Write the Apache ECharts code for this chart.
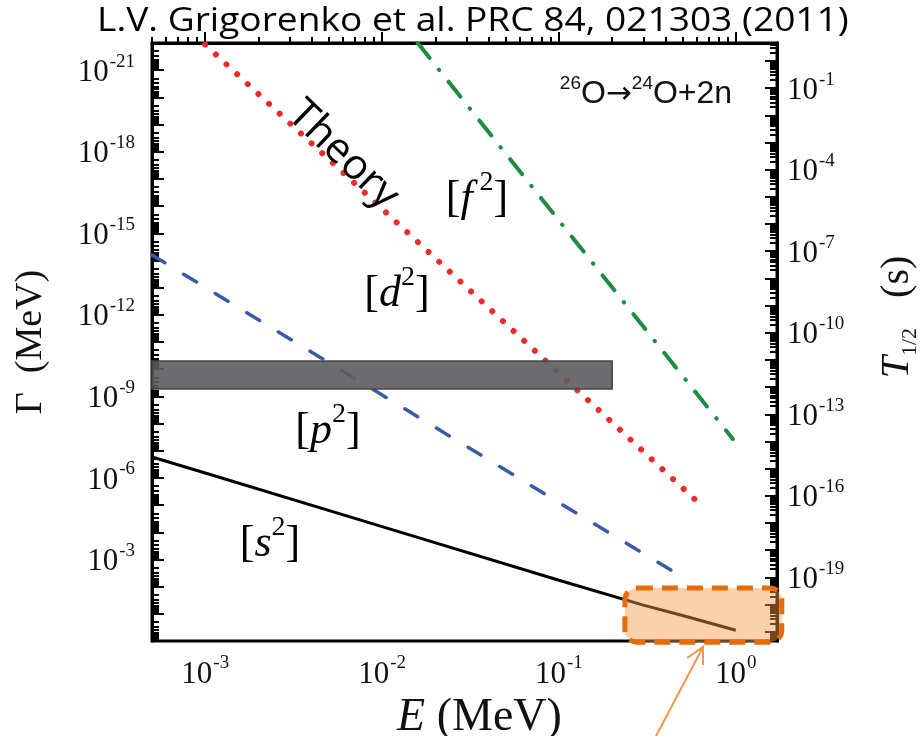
<!DOCTYPE html>
<html>
<head>
<meta charset="utf-8">
<script src="https://cdn.jsdelivr.net/npm/echarts@6/dist/echarts.min.js"></script>
<style>
html,body{margin:0;padding:0;background:#fff;}
#chart{width:920px;height:736px;}
</style>
</head>
<body>
<div id="chart"></div>
<script>
// ---- data (Γ in MeV vs E in MeV) ----
const E_s = [5e-4, 1e-3, 1e-2, 0.1, 0.3, 0.5, 1.0];
const G_s = [1.7e-7, 6.6e-7, 6.2e-5, 5.8e-3, 4.8e-2, 0.115, 0.40];

const E_p = [5e-4, 1e-3, 1e-2, 0.1, 0.48];
const G_p = [6.3e-15, 9.8e-14, 8.9e-10, 8.1e-6, 3.8e-3];

const E_d = [1e-3, 1e-2, 0.1, 0.652];
const G_d = [1.15e-22, 1.26e-16, 1.4e-10, 1.17e-5];

const E_f = [0.0159, 0.1, 0.962];
const G_f = [1.0e-22, 3.4e-16, 3.7e-8];

// experimental band
const bandE = [5e-4, 0.2];
const bandG = [5e-11, 5.4e-10];

// axes
const xMin = 5e-4, xMax = 1.71;
const gMin = 1e-22, gMax = 1;
const HBAR_LN2 = 4.562e-22; // MeV*s, T1/2 = hbar*ln2/Γ
const tMin = HBAR_LN2 / gMax, tMax = HBAR_LN2 / gMin;

const xLabelVals = [1e-3, 1e-2, 1e-1, 1];
const gLabelExp = [-21, -18, -15, -12, -9, -6, -3];
const tLabelExp = [-1, -4, -7, -10, -13, -16, -19];

function pair(xs, ys){ return xs.map((x,i)=>[x, ys[i]]); }
function decades(lo, hi){ const out=[]; for(let n=Math.ceil(Math.log10(lo)-1e-9); n<=Math.floor(Math.log10(hi)+1e-9); n++) out.push(Math.pow(10,n)); return out; }
function minors(lo, hi){ const out=[]; for(let n=Math.floor(Math.log10(lo))-1; n<=Math.ceil(Math.log10(hi)); n++){ for(let k=2;k<=9;k++){ const v=k*Math.pow(10,n); if(v>=lo && v<=hi) out.push(v);} } return out; }

const serif = 'Liberation Serif, Times New Roman, serif';
const powRich = {
  b: {fontFamily: serif, fontSize: 31, color: '#111', lineHeight: 36, verticalAlign: 'bottom'},
  s: {fontFamily: serif, fontSize: 19, color: '#111', lineHeight: 36, verticalAlign: 'top', padding:[0,0,0,1]}
};
function powFmt(v){ const e = Math.round(Math.log10(v)); return '{b|10}{s|' + e + '}'; }

const chart = echarts.init(document.getElementById('chart'), null, {renderer:'canvas'});

const grid = {left:152, top:43, right:143, bottom:95, show:true, borderColor:'#000', borderWidth:3,
  backgroundColor:'transparent', outerBoundsMode:'none', containLabel:false};

const option = {
  animation:false,
  backgroundColor:'#fff',
  grid: grid,
  xAxis: [
    {
      type:'log', logBase:10, min:xMin, max:xMax, position:'bottom',
      axisLine:{show:true, lineStyle:{color:'#000', width:3}},
      axisTick:{show:true, inside:true, length:11, lineStyle:{color:'#000', width:2}, customValues: decades(xMin, xMax)},
      axisLabel:{show:true, margin:13, customValues: xLabelVals, formatter: powFmt, rich: powRich},
      splitLine:{show:false},
      name:'{i|E}{n| (MeV)}', nameLocation:'middle', nameGap:49,
      nameTextStyle:{rich:{
        i:{fontFamily:serif, fontStyle:'italic', fontSize:46, color:'#111'},
        n:{fontFamily:serif, fontSize:46, color:'#111'}
      }, padding:[0,0,0,30]}
    },
    {
      type:'log', logBase:10, min:xMin, max:xMax, position:'bottom',
      axisLine:{show:false},
      axisTick:{show:true, inside:true, length:6, lineStyle:{color:'#000', width:2}, customValues: minors(xMin, xMax)},
      axisLabel:{show:false}, splitLine:{show:false}
    }
  ],
  yAxis: [
    {
      type:'log', logBase:10, min:gMin, max:gMax, inverse:true, position:'left',
      axisLine:{show:true, lineStyle:{color:'#000', width:3}},
      axisTick:{show:true, inside:true, length:12, lineStyle:{color:'#000', width:2}, customValues: decades(gMin, gMax)},
      axisLabel:{show:true, margin:17, customValues: gLabelExp.map(e=>Math.pow(10,e)), formatter: powFmt, rich: powRich},
      splitLine:{show:false},
      name:'Γ  (MeV)', nameLocation:'middle', nameGap:102, nameRotate:90,
      nameTextStyle:{fontFamily:serif, fontSize:38, color:'#111', padding:[0,0,0,0]}
    },
    {
      type:'log', logBase:10, min:gMin, max:gMax, inverse:true, position:'left',
      axisLine:{show:false},
      axisTick:{show:true, inside:true, length:7, lineStyle:{color:'#000', width:2}, customValues: minors(gMin, gMax)},
      axisLabel:{show:false}, splitLine:{show:false}
    },
    {
      type:'log', logBase:10, min:tMin, max:tMax, position:'right',
      axisLine:{show:true, lineStyle:{color:'#000', width:3}},
      axisTick:{show:true, inside:true, length:12, lineStyle:{color:'#000', width:2}, customValues: decades(tMin, tMax)},
      axisLabel:{show:true, margin:10, customValues: tLabelExp.map(e=>Math.pow(10,e)), formatter: powFmt, rich: powRich},
      splitLine:{show:false},
      name:'{i|T}{sub|1/2}{n|   (s)}', nameLocation:'middle', nameGap:100, nameRotate:90,
      nameTextStyle:{padding:[0,0,0,50], rich:{
        i:{fontFamily:serif, fontStyle:'italic', fontSize:40, color:'#111', lineHeight:44, verticalAlign:'top'},
        sub:{fontFamily:serif, fontSize:22, color:'#111', lineHeight:44, verticalAlign:'bottom'},
        n:{fontFamily:serif, fontSize:40, color:'#111', lineHeight:44, verticalAlign:'top'}
      }}
    },
    {
      type:'log', logBase:10, min:tMin, max:tMax, position:'right',
      axisLine:{show:false},
      axisTick:{show:true, inside:true, length:7, lineStyle:{color:'#000', width:2}, customValues: minors(tMin, tMax)},
      axisLabel:{show:false}, splitLine:{show:false}
    }
  ],
  series: [
    {name:'s2', type:'line', xAxisIndex:0, yAxisIndex:0, data: pair(E_s, G_s), showSymbol:false, smooth:false,
     lineStyle:{color:'#000', width:3}, z:3},
    {name:'p2', type:'line', xAxisIndex:0, yAxisIndex:0, data: pair(E_p, G_p), showSymbol:false,
     lineStyle:{color:'#3a5aa8', width:3.5, type:[15,22], cap:'round'}, z:3},
    {name:'d2', type:'line', xAxisIndex:0, yAxisIndex:0, data: pair(E_d, G_d), showSymbol:false,
     lineStyle:{color:'#ee2b2b', width:6, type:[0.01,14.5], cap:'round'}, z:3},
    {name:'f2', type:'line', xAxisIndex:0, yAxisIndex:0, data: pair(E_f, G_f), showSymbol:false,
     lineStyle:{color:'#1c8c42', width:4, type:[19,15,0.5,15], cap:'round'}, z:3},
    {name:'band', type:'line', xAxisIndex:0, yAxisIndex:0, data: [], z:10,
     markArea:{silent:true, z:10,
       itemStyle:{color:'rgba(92,92,95,0.9)', borderColor:'#454545', borderWidth:1.5},
       data:[[{coord:[bandE[0], bandG[0]]},{coord:[bandE[1], bandG[1]]}]]}}
  ]
};
chart.setOption(option);

// annotations (title, text labels, highlight box, arrow)
const brRich = (color)=>({
  n:{fontFamily:serif, fontSize:44, color:color, lineHeight:52, verticalAlign:'bottom'},
  i:{fontFamily:serif, fontSize:44, fontStyle:'italic', color:color, lineHeight:52, verticalAlign:'bottom'},
  s:{fontFamily:serif, fontSize:28, color:color, lineHeight:52, verticalAlign:'top'}
});
function bracketLabel(x, y, letter, color, gap){
  return {type:'text', x:x, y:y, z:50,
    style:{text:'{n|[}{i|'+letter+'}{s|'+(gap?' ':'')+'2}{n|]}', rich: brRich(color), align:'center', verticalAlign:'middle'}};
}
const boxTL = chart.convertToPixel({xAxisIndex:0, yAxisIndex:0}, [0.236, 0.0112]);
const boxBR = chart.convertToPixel({xAxisIndex:0, yAxisIndex:0}, [1.82, 1.1]);
const sans = 'Liberation Sans, DejaVu Sans, sans-serif';
chart.setOption({
  graphic: [
    {type:'text', x:97, y:6, z:50, scaleX:1.16,
     style:{text:'L.V. Grigorenko et al. PRC 84, 021303 (2011)', fontFamily:'Open Sans, Liberation Sans, sans-serif', fontSize:32, fill:'#000', align:'left', verticalAlign:'top'}},
    {type:'text', x:343, y:155, rotation:-44*Math.PI/180, z:50,
     style:{text:'Theory', fontFamily:'Open Sans, Liberation Sans, sans-serif', fontSize:42, fill:'#000', align:'center', verticalAlign:'middle'}},
    bracketLabel(397, 290, 'd', '#e5302f', false),
    bracketLabel(477, 195, 'f', '#1e8a45', true),
    bracketLabel(328, 427, 'p', '#3d56a6', false),
    bracketLabel(270, 540, 's', '#111', false),
    {type:'text', x:646, y:92, z:50,
     style:{text:'{s|26}{n|O}{a|→}{s|24}{n|O+2n}', align:'center', verticalAlign:'middle', rich:{
       n:{fontFamily:sans, fontSize:32, fill:'#111', lineHeight:36, verticalAlign:'bottom'},
       a:{fontFamily:'DejaVu Sans, sans-serif', fontSize:31, fill:'#111', lineHeight:36, verticalAlign:'bottom'},
       s:{fontFamily:sans, fontSize:19, fill:'#111', lineHeight:36, verticalAlign:'top'}
     }}},
    {type:'rect', z:60,
     shape:{x:boxTL[0], y:boxTL[1], width:boxBR[0]-boxTL[0], height:boxBR[1]-boxTL[1], r:12},
     style:{fill:'rgba(247,150,70,0.45)', stroke:'#e46c0a', lineWidth:5, lineDash:[16,9]}},
    {type:'polyline', z:60, shape:{points:[[656,736],[703,647]]}, style:{stroke:'#f79646', lineWidth:2, fill:null}},
    {type:'polyline', z:60, shape:{points:[[687,658],[703,647],[703,665]]}, style:{stroke:'#f79646', lineWidth:2, fill:null}}
  ]
});
</script>
</body>
</html>
